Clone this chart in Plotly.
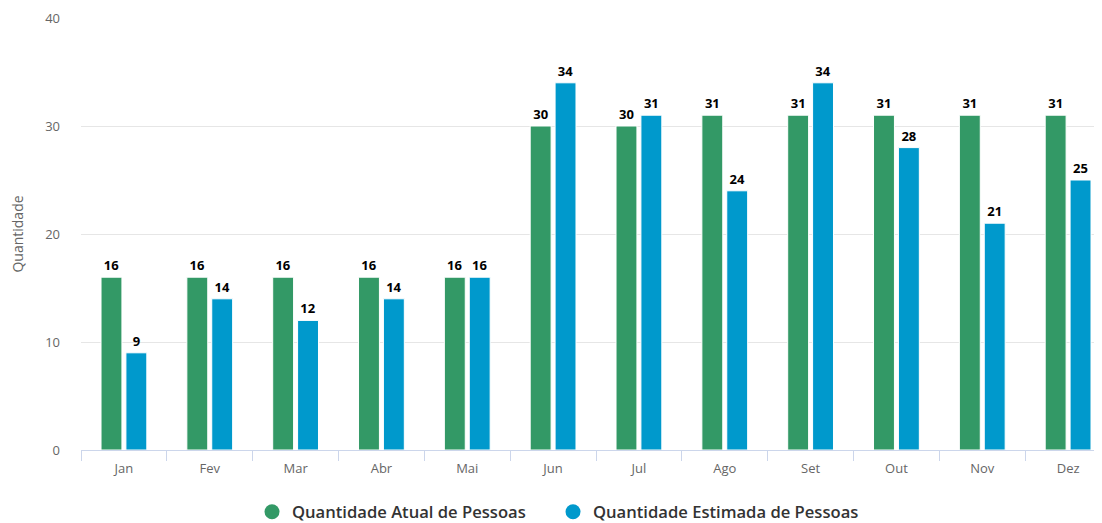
import plotly.graph_objects as go

months = ["Jan", "Fev", "Mar", "Abr", "Mai", "Jun", "Jul", "Ago", "Set", "Out", "Nov", "Dez"]
atual = [16, 16, 16, 16, 16, 30, 30, 31, 31, 31, 31, 31]
estimada = [9, 14, 12, 14, 16, 34, 31, 24, 34, 28, 21, 25]

name_atual = "Quantidade Atual de Pessoas"
name_estimada = "Quantidade Estimada de Pessoas"
green = "#339966"
blue = "#0099CC"
FONT = "Open Sans, DejaVu Sans, sans-serif"

fig = go.Figure()
for name, vals, col, leg in [(name_atual, atual, green, "legend"), (name_estimada, estimada, blue, "legend2")]:
    fig.add_trace(go.Bar(
        x=months, y=vals, name=name, marker=dict(color=col, line=dict(color="white", width=1)),
        text=vals, textposition="outside", cliponaxis=False, constraintext="none",
        textfont=dict(family=FONT, size=13, color="#000000", weight="bold"),
        showlegend=False,
    ))
    fig.add_trace(go.Scatter(
        x=[None], y=[None], mode="markers", name=name, legend=leg,
        marker=dict(symbol="circle", size=15, color=col),
    ))

legend_common = dict(
    orientation="h", xanchor="left", y=-0.1435, yanchor="middle",
    font=dict(family=FONT, size=16.6, color="#333333", weight=600),
)

fig.update_layout(
    width=1094, height=515,
    margin=dict(l=73, r=0, t=10, b=73, autoexpand=False),
    paper_bgcolor="white", plot_bgcolor="white",
    font=dict(family=FONT, color="#666666", size=12),
    barmode="group", bargap=0.42, bargroupgap=0.16,
    legend=dict(x=0.1675, **legend_common),
    legend2=dict(x=0.4623, **legend_common),
    xaxis=dict(
        range=[-0.5, 11.395], showgrid=False, showline=True, linecolor="#ccd6eb", linewidth=1,
        ticks="outside", tickson="boundaries", ticklen=10, tickcolor="#ccd6eb",
        tickfont=dict(size=13, color="#666666"), tickangle=0, ticklabelstandoff=6,
        fixedrange=True,
    ),
    yaxis=dict(
        range=[0, 40], tickvals=[0, 10, 20, 30, 40], showgrid=True, gridcolor="#e6e6e6",
        zeroline=False, showline=False, ticklabelstandoff=20,
        tickfont=dict(size=13, color="#666666"),
        title=dict(text="Quantidade", font=dict(size=14, color="#666666"), standoff=22),
    ),
)

fig.write_html("out.html")
